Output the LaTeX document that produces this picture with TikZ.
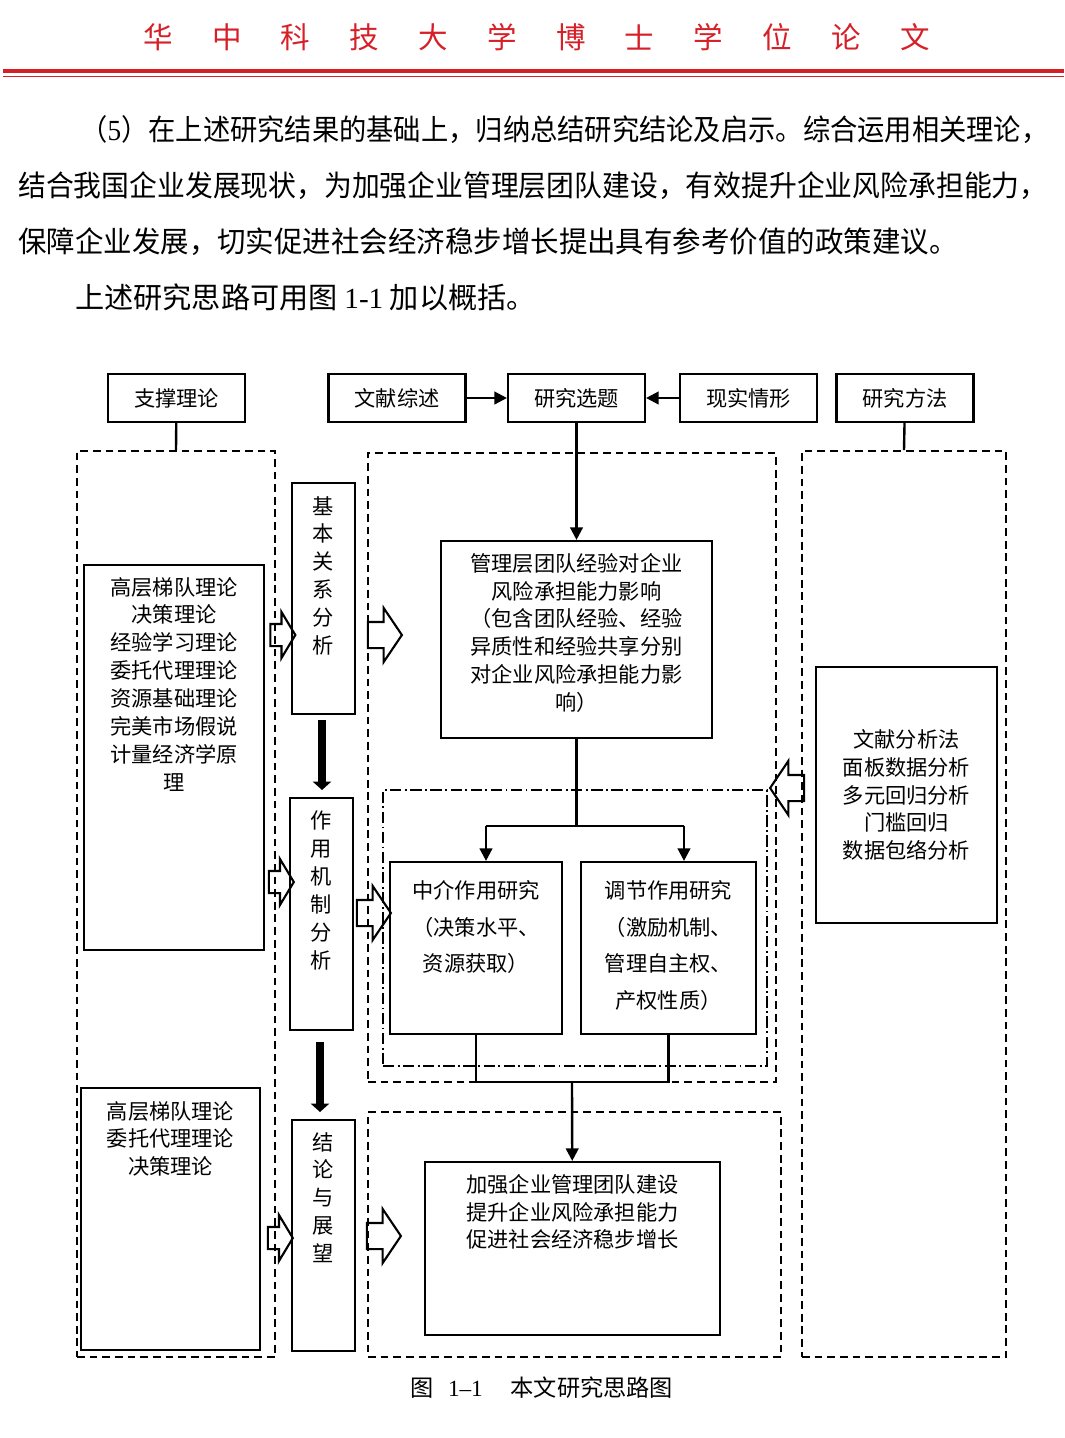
\documentclass[tikz,border=0pt]{standalone}
\usepackage{fontspec}
\setmainfont{Noto Sans CJK SC}
\newfontfamily\latin{Liberation Serif}
\usepackage{graphicx}
\usetikzlibrary{positioning, shapes.arrows, arrows.meta}

\def\px{0.025cm}
\definecolor{hustred}{RGB}{214,32,40}
\newcommand\diagfont{\fontsize{15.1pt}{19.8pt}\selectfont}
\newcommand\bodyfont{\fontsize{20.75pt}{24pt}\selectfont}
\newcommand\fitline[2]{\resizebox{#1}{\height}{#2}}

\tikzstyle{headchar} = [text=hustred, font=\fontsize{21pt}{24pt}\selectfont, inner sep=0pt]
\tikzstyle{bodyline} = [anchor=west, font=\bodyfont, inner sep=0pt]
\tikzstyle{box} = [rectangle, draw=black, line width=1.5pt, inner sep=0pt, font=\diagfont]
\tikzstyle{topbox} = [box, minimum width=137*\px, minimum height=48*\px]
\tikzstyle{stagebox} = [box, minimum width=63*\px, minimum height=231*\px]
\tikzstyle{textblock} = [align=center, font=\diagfont, inner sep=0pt]
\tikzstyle{panel} = [rectangle, draw=black, line width=1.3pt, dash pattern=on 5.5pt off 3.5pt]
\tikzstyle{dotpanel} = [rectangle, draw=black, line width=1.1pt, dash pattern=on 8pt off 2.5pt on 1.3pt off 2.5pt]
\tikzstyle{line} = [line width=1.7pt]
\tikzstyle{arrow} = [line width=1.7pt, -{Triangle[length=9pt, width=9pt]}]
\tikzstyle{bigarrow} = [line width=5.5pt, -{Triangle[length=6pt, width=13pt]}]
\tikzstyle{hollowsmall} = [single arrow, draw=black, line width=1.5pt, inner xsep=0pt, inner ysep=10*\px, text height=0pt, text depth=0pt, single arrow head extend=12*\px, single arrow tip angle=118, minimum height=25*\px]
\tikzstyle{hollowlarge} = [single arrow, draw=black, line width=1.5pt, inner xsep=0pt, inner ysep=12*\px, text height=0pt, text depth=0pt, single arrow head extend=14*\px, single arrow tip angle=112, minimum height=34*\px]

\begin{document}
\begin{tikzpicture}[x=0.025cm, y=-0.025cm]
\useasboundingbox (0,0) rectangle (1064,1438);

% page header
\foreach \ch [count=\i from 0] in {华,中,科,技,大,学,博,士,学,位,论,文}
  \node (hd\i) [headchar] at (158+68.8*\i, 37) {\ch};
\draw [hustred, line width=2.4pt] (3,71) -- (1064,71);
\draw [hustred, line width=1.4pt] (3,76.5) -- (1064,76.5);

% text above the figure
\node (par1) [bodyline] at (80,130) {\fitline{24.2cm}{（{\latin 5}）在上述研究结果的基础上，归纳总结研究结论及启示。综合运用相关理论，}};
\node (par2) [bodyline] at (18,186) {\fitline{25.725cm}{结合我国企业发展现状，为加强企业管理层团队建设，有效提升企业风险承担能力，}};
\node (par3) [bodyline] at (18,242) {\fitline{23.475cm}{保障企业发展，切实促进社会经济稳步增长提出具有参考价值的政策建议。}};
\node (par4) [bodyline] at (75,297) {上述研究思路可用图 {\latin 1-1} 加以概括。};

% top row
\node (zc) [topbox] at (176.5,398) {支撑理论};
\node (wx) [topbox] at (397,398) {文献综述};
\node (xt) [topbox] at (576.5,398) {研究选题};
\node (xs) [topbox] at (748.5,398) {现实情形};
\node (ff) [topbox] at (905,398) {研究方法};

% dashed panels
\node (pleft) [panel, minimum width=198*\px, minimum height=906*\px] at (176,904) {};
\node (pright) [panel, minimum width=204*\px, minimum height=906*\px] at (904,904) {};
\node (pmid) [panel, minimum width=408*\px, minimum height=629*\px] at (572,767.5) {};
\node (pinner) [dotpanel, minimum width=384*\px, minimum height=276*\px] at (575,928) {};
\node (pres) [panel, minimum width=413*\px, minimum height=245*\px] at (574.5,1234.5) {};

% theory column
\node (th1) [box, minimum width=180*\px, minimum height=385*\px] at (174,757.5) {};
\node (th1t) [textblock, below=13*\px of th1.north] {高层梯队理论\\决策理论\\经验学习理论\\委托代理理论\\资源基础理论\\完美市场假说\\计量经济学原\\理};
\node (th2) [box, minimum width=179*\px, minimum height=262*\px] at (170.5,1219) {};
\node (th2t) [textblock, below=14*\px of th2.north] {高层梯队理论\\委托代理理论\\决策理论};

% stage column
\node (sb1) [stagebox] at (323.5,598.5) {};
\node (sb1t) [textblock, below=14*\px of sb1.north] {基\\本\\关\\系\\分\\析};
\node (sb2) [stagebox, minimum height=232*\px] at (321.5,914) {};
\node (sb2t) [textblock, below=14*\px of sb2.north] {作\\用\\机\\制\\分\\析};
\node (sb3) [stagebox] at (323.5,1235.5) {};
\node (sb3t) [textblock, below=13*\px of sb3.north] {结\\论\\与\\展\\望};

% research content
\node (main) [box, minimum width=271*\px, minimum height=197*\px] at (576.5,639.5) {};
\node (maint) [textblock, below=13*\px of main.north] {管理层团队经验对企业\\风险承担能力影响\\（包含团队经验、经验\\异质性和经验共享分别\\对企业风险承担能力影\\响）};
\node (zj) [box, minimum width=172*\px, minimum height=172*\px] at (476,948) {};
\node (zjt) [textblock, font=\fontsize{15.1pt}{26.2pt}\selectfont, below=19*\px of zj.north] {中介作用研究\\（决策水平、\\资源获取）};
\node (tj) [box, minimum width=175*\px, minimum height=172*\px] at (668.5,948) {};
\node (tjt) [textblock, font=\fontsize{15.1pt}{26.2pt}\selectfont, below=19*\px of tj.north] {调节作用研究\\（激励机制、\\管理自主权、\\产权性质）};
\node (res) [box, minimum width=295*\px, minimum height=173*\px] at (572.5,1248.5) {};
\node (rest) [textblock, below=13*\px of res.north] {加强企业管理团队建设\\提升企业风险承担能力\\促进社会经济稳步增长};

% methods
\node (meth) [box, align=center, minimum width=181*\px, minimum height=256*\px] at (906.5,795) {文献分析法\\面板数据分析\\多元回归分析\\门槛回归\\数据包络分析};

% hollow arrows
\node (ha1) [hollowsmall] at (279.5,635) {};
\node (ha2) [hollowsmall] at (278,882) {};
\node (ha3) [hollowsmall] at (277,1238) {};
\node (hb1) [hollowlarge] at (380.5,635) {};
\node (hb2) [hollowlarge] at (369.5,913) {};
\node (hb3) [hollowlarge] at (379.5,1236) {};
\node (hm) [hollowlarge, shape border rotate=180] at (791.5,788) {};

% connectors
\draw [arrow] (wx) -- (xt);
\draw [arrow] (xs) -- (xt);
\draw [line] (zc) -- (pleft.north);
\draw [line] (ff) -- (pright.north);
\draw [arrow] (xt) -- (main);
\coordinate (spl) at (486,826);
\coordinate (spr) at (684,826);
\draw [line] (main.south) -- (main.south |- spl);
\draw [line] (spl) -- (spr);
\draw [arrow] (spl) -- (spl |- zj.north);
\draw [arrow] (spr) -- (spr |- tj.north);
\coordinate (jn) at (572,1082);
\draw [line] (zj.south) |- (jn) -| (tj.south);
\draw [arrow] (jn) -- (res);
\draw [bigarrow, shorten <=6*\px, shorten >=8*\px] (322,714) -- (322,798);
\draw [bigarrow, shorten <=12*\px, shorten >=8*\px] (320,1030) -- (320,1120);

% caption
\node (cap) [font=\fontsize{16.5pt}{20pt}\selectfont, inner sep=0pt] at (542,1388) {图\hspace{0.6em}{\latin 1–1}\hspace{1.2em}本文研究思路图};
\end{tikzpicture}
\end{document}
